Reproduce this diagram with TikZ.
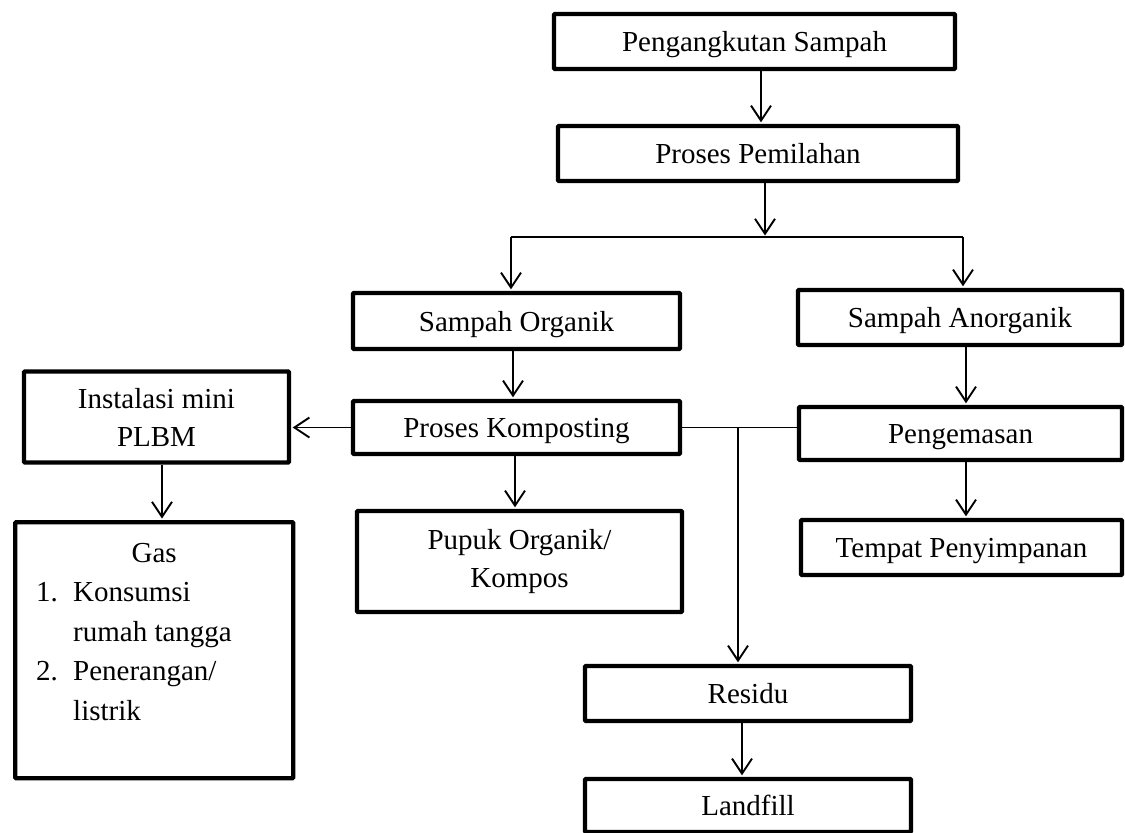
\documentclass[tikz,border=0pt]{standalone}
\usepackage{fontspec}
\setmainfont{Liberation Serif}
\usetikzlibrary{arrows.meta}
\begin{document}
\begin{tikzpicture}[x=1pt,y=-1pt,
  box/.style={draw, line width=4.4pt, rounded corners=1pt, inner sep=0pt, align=center,
    font=\fontsize{29}{38}\selectfont},
  one/.style={box, text height=22pt, text depth=1.5pt},
  conn/.style={line width=1.9pt},
  arr/.style={conn, shorten >=1.5pt, -{Straight Barb[length=15pt,width=20pt]}}]
\useasboundingbox (0,0) rectangle (1125,833);

% boxes
\node[one, minimum width=401pt, minimum height=55pt] (n1) at (754.5,41.5) {Pengangkutan Sampah};
\node[one, minimum width=400pt, minimum height=55pt] (n2) at (758,153.5) {Proses Pemilahan};
\node[one, minimum width=327pt, minimum height=56pt] (org) at (516.5,321) {Sampah Organik};
\node[one, minimum width=324pt, minimum height=55pt] (anorg) at (960,317.5) {Sampah Anorganik};
\node[one, minimum width=327pt, minimum height=53pt] (komp) at (516.5,427.5) {Proses Komposting};
\node[one, minimum width=323pt, minimum height=53pt] (peng) at (960.5,433.5) {Pengemasan};
\node[one, minimum width=321pt, minimum height=55pt] (temp) at (961.5,547.5) {Tempat Penyimpanan};
\node[box, minimum width=265pt, minimum height=91pt] (plbm) at (156.5,417) {Instalasi mini\\PLBM};
\node[box, minimum width=325pt, minimum height=101pt] (pupuk) at (519.5,561.5) {Pupuk Organik/\\Kompos};
\node[one, minimum width=326pt, minimum height=55pt] (res) at (748,693.5) {Residu};
\node[one, minimum width=326pt, minimum height=53pt] (land) at (748,805.5) {Landfill};
\node[box, anchor=north west, font=\fontsize{29}{39.5}\selectfont] (gas) at (13,520)
  {\parbox[t][256pt][t]{278pt}{\vspace*{21pt}{\centering Gas\par}%
   \hspace*{21pt}\makebox[37pt][l]{1.}Konsumsi\par
   \hspace*{58pt}rumah tangga\par
   \hspace*{21pt}\makebox[37pt][l]{2.}Penerangan/\par
   \hspace*{58pt}listrik\par}};

% columns and junctions
\coordinate (c1) at (761,0);
\coordinate (bm) at (765,237);
\coordinate (bl) at (511,237);
\coordinate (bR) at (963,237);
\coordinate (c2) at (513,0);
\coordinate (c3) at (162,0);
\coordinate (c4) at (515,0);
\coordinate (c5) at (966,0);
\coordinate (jx) at (738,0);
\coordinate (c6) at (742,0);

% connectors
\draw[arr] (n1.south -| c1) -- (n2.north -| c1);
\draw[arr] (n2.south -| bm) -- (bm);
\draw[conn] (bl) -- (bR);
\draw[arr] (bl) -- (org.north -| bl);
\draw[arr] (bR) -- (anorg.north -| bR);
\draw[arr] (org.south -| c2) -- (komp.north -| c2);
\draw[arr] (komp.west) -- (plbm.east |- komp.west);
\draw[arr] (plbm.south -| c3) -- (gas.north -| c3);
\draw[arr] (komp.south -| c4) -- (pupuk.north -| c4);
\draw[conn] (komp.east) -- (peng.west |- komp.east);
\coordinate (j) at (jx |- komp.east);
\draw[arr] (j) -- (res.north -| j);
\draw[arr] (anorg.south -| c5) -- (peng.north -| c5);
\draw[arr] (peng.south -| c5) -- (temp.north -| c5);
\draw[arr] (res.south -| c6) -- (land.north -| c6);
\end{tikzpicture}
\end{document}
